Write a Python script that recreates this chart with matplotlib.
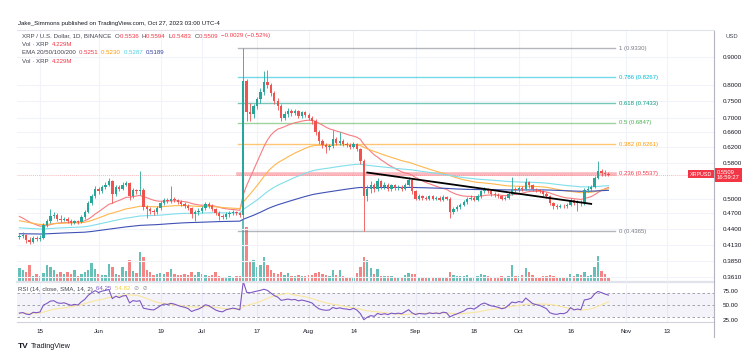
import numpy as np
import pandas as pd
import matplotlib
matplotlib.use("Agg")
import matplotlib.pyplot as plt
import matplotlib.dates as mdates
import matplotlib.transforms as mtrans

plt.rcParams['font.family'] = ['Liberation Sans', 'DejaVu Sans']

W, H = 756, 362

# ---- daily XRP/USD candles (May 9 - Oct 27 2023) ----
dates = pd.date_range("2023-05-09", "2023-10-27", freq="D")
first_open = 0.426

close_may = [.428, .430, .421, .418, .425, .423, .425, .448, .455, .465, .467, .460, .458, .460,
             .456, .452, .455, .453, .463, .472, .490, .505, .520]
close_jun = [.515, .525, .530, .537, .510, .525, .520, .530, .533, .505, .518, .515, .518, .482,
             .478, .474, .472, .480, .490, .497, .495, .500, .497, .492, .488, .485, .480, .468,
             .472, .475]
close_jul = [.480, .488, .485, .478, .470, .465, .463, .468, .470, .472, .470, .467, .815, .715,
             .710, .735, .755, .778, .810, .800, .775, .750, .735, .700, .710, .720, .712, .718,
             .705, .715, .708]
close_aug = [.700, .690, .660, .635, .625, .620, .622, .640, .630, .635, .628, .625, .620, .628,
             .615, .585, .505, .520, .530, .520, .538, .525, .530, .520, .528, .522, .525, .520,
             .530, .540, .515]
close_sep = [.500, .505, .502, .500, .505, .500, .502, .498, .503, .500, .472, .478, .482, .487,
             .492, .500, .502, .498, .505, .515, .520, .515, .510, .508, .505, .500, .502, .510,
             .520, .518]
close_oct = [.522, .520, .535, .528, .520, .517, .515, .510, .505, .490, .485, .483, .485, .484,
             .487, .497, .490, .492, .490, .518, .520, .525, .545, .560, .557, .5536, .5509]

high_may = [.432, .435, .432, .426, .428, .428, .430, .452, .460, .478, .472, .470, .466, .464,
            .463, .459, .458, .458, .466, .476, .494, .510, .526]
high_jun = [.525, .530, .536, .545, .540, .529, .528, .535, .538, .536, .522, .521, .560, .522,
            .486, .482, .478, .484, .494, .501, .502, .527, .504, .500, .496, .492, .489, .483,
            .476, .480]
high_jul = [.485, .493, .492, .489, .481, .474, .469, .472, .474, .476, .475, .473, .93298, .820,
            .745, .742, .762, .790, .850, .853, .808, .782, .758, .740, .718, .728, .725, .724,
            .722, .720, .720]
high_aug = [.712, .705, .695, .665, .640, .630, .628, .664, .645, .660, .640, .632, .630, .633,
            .631, .618, .590, .528, .538, .534, .545, .541, .535, .533, .532, .531, .529, .528,
            .534, .546, .543]
high_sep = [.518, .509, .508, .506, .508, .508, .506, .505, .507, .506, .503, .482, .486, .491,
            .496, .504, .507, .506, .509, .519, .525, .523, .518, .514, .511, .508, .506, .514,
            .546, .524]
high_oct = [.527, .526, .545, .538, .531, .523, .521, .518, .513, .508, .493, .488, .489, .488,
            .491, .502, .500, .496, .497, .523, .526, .530, .550, .585, .565, .562, .5594]

low_may = [.422, .424, .416, .414, .415, .419, .420, .422, .444, .452, .461, .456, .453, .455,
           .452, .448, .449, .450, .451, .460, .470, .487, .502]
low_jun = [.510, .512, .521, .526, .490, .506, .515, .517, .526, .498, .501, .510, .508, .476,
           .462, .469, .467, .469, .477, .486, .490, .491, .492, .488, .484, .480, .476, .462,
           .455, .467]
low_jul = [.471, .477, .481, .474, .466, .458, .459, .460, .464, .466, .466, .463, .460, .690,
           .690, .700, .725, .745, .770, .790, .765, .740, .722, .690, .692, .703, .704, .706,
           .698, .700, .702]
low_aug = [.692, .682, .652, .628, .618, .604, .612, .618, .625, .625, .622, .620, .615, .616,
           .610, .578, .43648, .495, .512, .514, .516, .520, .521, .515, .516, .518, .519, .516,
           .517, .527, .510]
low_sep = [.496, .497, .498, .496, .497, .496, .497, .494, .495, .496, .462, .468, .474, .479,
           .484, .489, .496, .494, .495, .502, .511, .511, .506, .504, .501, .496, .497, .499,
           .507, .514]
low_oct = [.514, .516, .517, .523, .516, .513, .511, .506, .501, .486, .479, .478, .480, .480,
           .481, .484, .486, .475, .485, .487, .514, .516, .522, .542, .550, .548, .5483]

vol_may = [140, 120, 100, 170, 60, 80, 60, 90, 170, 150, 120, 80, 100, 80, 100, 80, 120, 60,
           80, 100, 120, 190, 130]
vol_jun = [80, 70, 70, 180, 150, 80, 70, 150, 110, 220, 110, 90, 300, 250, 120, 100, 70, 80,
           90, 80, 100, 130, 80, 70, 70, 80, 70, 100, 70, 100]
vol_jul = [80, 70, 60, 70, 100, 60, 50, 50, 60, 50, 60, 60, 620, 550, 200, 220, 150, 170, 250,
           170, 120, 90, 80, 100, 70, 90, 60, 60, 70, 60, 60]
vol_aug = [70, 70, 90, 100, 80, 70, 60, 120, 70, 120, 60, 50, 50, 50, 90, 150, 250, 220, 140,
           80, 130, 60, 60, 60, 60, 50, 50, 50, 70, 90, 80]
vol_sep = [80, 50, 40, 40, 50, 50, 40, 50, 50, 50, 100, 70, 60, 60, 60, 70, 50, 50, 60, 80, 70,
           60, 50, 50, 40, 60, 40, 60, 170, 60]
vol_oct = [60, 70, 140, 100, 70, 50, 40, 60, 60, 70, 60, 40, 40, 40, 50, 80, 60, 80, 70, 100,
           60, 70, 150, 260, 110, 80, 40]

close = np.array(close_may + close_jun + close_jul + close_aug + close_sep + close_oct)
high = np.array(high_may + high_jun + high_jul + high_aug + high_sep + high_oct)
low = np.array(low_may + low_jun + low_jul + low_aug + low_sep + low_oct)
vol = np.array(vol_may + vol_jun + vol_jul + vol_aug + vol_sep + vol_oct)
opens = np.r_[first_open, close[:-1]]

# EMA values at the left edge of the chart (earlier history not shown)
ema_len = [20, 50, 100, 200]
ema_seed = [0.468, 0.457, 0.443, 0.432]
ema_col = ['#f77c80', '#ffb74d', '#80deea', '#3f51b5']

# fib drawn from the Jul 13 high to the Aug 17 low
fib_high_day = "2023-07-13"
fib_low_day = "2023-08-17"
fib_ratio = [1, 0.786, 0.618, 0.5, 0.382, 0.236, 0]
fib_col = ['#787b86', '#00bcd4', '#089981', '#4caf50', '#ff9800', '#f23645', '#787b86']

trend_dates = ["2023-08-18", "2023-10-22"]
trend_price = [0.557, 0.489]

price_ticks = [0.9, 0.8, 0.75, 0.7, 0.66, 0.62, 0.58, 0.5, 0.47, 0.44, 0.413, 0.385, 0.361]
date_ticks = ["2023-05-15", "2023-06-01", "2023-06-19", "2023-07-01", "2023-07-17", "2023-08-01",
              "2023-08-14", "2023-09-01", "2023-09-18", "2023-10-01", "2023-10-16", "2023-11-01",
              "2023-11-13"]
date_labels = ["15", "Jun", "19", "Jul", "17", "Aug", "14", "Sep", "18", "Oct", "16", "Nov", "13"]

UP, DN = '#26a69a', '#ef5350'
TXT = '#434651'
GRID = '#f0f3fa'
RED = '#f23645'

x = mdates.date2num(dates)
col = np.where(close >= opens, UP, DN)

fig = plt.figure(figsize=(W / 100, H / 100), dpi=100)
ax = fig.add_axes([17 / W, 1 - 282 / H, 697 / W, 252 / H])
axv = ax.twinx()
axr = fig.add_axes([17 / W, 1 - 322 / H, 697 / W, 40 / H], sharex=ax)
ax.set_zorder(axv.get_zorder() + 1)
ax.patch.set_visible(False)

# volume
axv.bar(x, vol, width=0.7, color=col, alpha=0.7, lw=0)
axv.set_ylim(0, 2520)
axv.axis('off')

# candles
ax.set_yscale('log')
ax.vlines(x, low, high, color=col, lw=0.6, zorder=3)
body = np.maximum(np.abs(close - opens), 0.0007)
ax.bar(x, body, bottom=np.minimum(close, opens), width=0.7, color=col, lw=0, zorder=4)

# EMAs
for n, s, c in zip(ema_len, ema_seed, ema_col):
    a = 2 / (n + 1)
    e, vals = s, []
    for v in close:
        e = a * v + (1 - a) * e
        vals.append(e)
    ax.plot(x, vals, color=c, lw=0.8, zorder=2)

# fibonacci retracement
hi = high[dates == pd.Timestamp(fib_high_day)][0]
lo = low[dates == pd.Timestamp(fib_low_day)][0]
fx0 = mdates.date2num(pd.Timestamp("2023-07-11 12:00"))
fx1 = mdates.date2num(pd.Timestamp("2023-10-29"))
for r, c in zip(fib_ratio, fib_col):
    lvl = lo + r * (hi - lo)
    lw, al = (2.6, 0.35) if r == 0.236 else (1.0, 0.55)
    ax.plot([fx0, fx1], [lvl, lvl], color=c, lw=lw, alpha=al, zorder=1)
    ax.text(fx1 + 1.2, lvl, "%g (%.4f)" % (r, lvl), color=c, fontsize=4.3, va='center')

# current price line
ax.axhline(close[-1], color=RED, lw=0.7, alpha=0.35, ls=(0, (1, 1)), zorder=1)

# trend line
ax.plot(mdates.date2num(pd.to_datetime(trend_dates)), trend_price, color='black', lw=1.3, zorder=5)

ax.set_ylim(0.3535, 1.007)
ax.set_xlim(x[0] - 0.68, x[0] + 201.65)
ax.yaxis.tick_right()
ax.set_yticks(price_ticks)
ax.set_yticklabels(["%.4f" % t for t in price_ticks])
ax.yaxis.set_minor_locator(plt.NullLocator())
ax.tick_params(axis='y', length=0, pad=6, labelsize=4.5, colors='#131722')
tick_x = mdates.date2num(pd.to_datetime(date_ticks))
ax.set_xticks(tick_x)
ax.tick_params(axis='x', length=0, labelbottom=False)
ax.grid(color=GRID, lw=0.8, zorder=0)
ax.set_axisbelow(True)
for sp in ['left', 'bottom']:
    ax.spines[sp].set_visible(False)
ax.spines['top'].set_color('#e0e3eb')
ax.spines['right'].set_color('#b2b5be')
ax.spines['right'].set_linewidth(0.8)

# RSI pane
diff = close - opens
ag, al_ = 0.0035, 0.0065
rsi = []
for d in diff:
    ag = (ag * 13 + max(d, 0)) / 14
    al_ = (al_ * 13 + max(-d, 0)) / 14
    rsi.append(100 - 100 / (1 + ag / al_))
rsi = pd.Series(rsi)
rsi_ma = rsi.rolling(14, min_periods=1).mean()

axr.axhspan(30, 70, color='#7e57c2', alpha=0.07, lw=0)
for lv in [70, 50, 30]:
    axr.axhline(lv, color='#9598a1', lw=0.6, ls=(0, (3, 3)))
axr.plot(x, rsi_ma, color='#f9e79f', lw=0.8)
axr.plot(x, rsi, color='#7e57c2', lw=0.8)
axr.set_ylim(20.7, 89.7)
axr.yaxis.tick_right()
axr.set_yticks([75, 50, 25])
axr.set_yticklabels(["75.00", "50.00", "25.00"])
axr.tick_params(axis='y', length=0, pad=6, labelsize=4.5, colors='#131722')
axr.set_xticks(tick_x)
axr.set_xticklabels(date_labels)
axr.tick_params(axis='x', length=0, pad=5, labelsize=4.5, colors='#131722')
axr.grid(axis='x', color=GRID, lw=0.8)
axr.set_axisbelow(True)
axr.spines['left'].set_visible(False)
axr.spines['top'].set_color('#e0e3eb')
axr.spines['top'].set_linewidth(1.6)
axr.spines['bottom'].set_color('#d1d4dc')
axr.spines['right'].set_color('#b2b5be')
axr.spines['right'].set_linewidth(0.8)

# axis line below the date labels
fig.add_artist(plt.Line2D([714 / W, 714 / W], [1 - 337 / H, 1 - 322 / H], color='#b2b5be', lw=0.8))


def row(x0, y0, parts, size=4.4):
    r = fig.canvas.get_renderer()
    xx = x0
    for s, c in parts:
        t = fig.text(xx / W, 1 - y0 / H, s, color=c, fontsize=size, va='center', ha='left')
        xx += t.get_window_extent(r).width


row(18, 23, [("Jake_Simmons published on TradingView.com, Oct 27, 2023 03:00 UTC-4", '#131722')])
row(22, 36, [("XRP / U.S. Dollar, 1D, BINANCE  ", TXT), ("O", TXT), ("0.5536  ", RED), ("H", TXT),
             ("0.5594  ", RED), ("L", TXT), ("0.5483  ", RED), ("C", TXT), ("0.5509  ", RED),
             ("\u22120.0029 (\u22120.52%)", RED)])
row(22, 44.5, [("Vol \u00b7 XRP  ", TXT), ("4.229M", RED)])
row(22, 53, [("EMA 20/50/100/200  ", TXT), ("0.5251  ", RED), ("0.5230  ", '#ff9800'),
             ("0.5287  ", '#4dd0e1'), ("0.5189", '#303f9f')])
row(22, 61.5, [("Vol \u00b7 XRP  ", TXT), ("4.229M", RED)])
row(18, 289, [("RSI (14, close, SMA, 14, 2)  ", TXT), ("64.25  ", '#7e57c2'), ("54.82  ", '#f4d03f'),
              ("\u2298  \u2298", '#9598a1')])

fig.text(726 / W, 1 - 37 / H, "USD", fontsize=4.2, color=TXT, va='center')

# last price badges
bt = mtrans.blended_transform_factory(ax.transAxes, ax.transData)
ax.text(1.004, close[-1], "%.4f\n16:59:27" % close[-1], transform=bt, fontsize=4.2, color='white',
        va='center', ha='left', linespacing=1.1, clip_on=False,
        bbox=dict(boxstyle='square,pad=0.35', fc=RED, ec='none'))
ax.text(0.997, close[-1] * 1.004, "XRPUSD", transform=bt, fontsize=3.9, color='white',
        va='center', ha='right', clip_on=False,
        bbox=dict(boxstyle='square,pad=0.3', fc=RED, ec='none'))

# logo
fig.text(18 / W, 1 - 346 / H, "TV", fontsize=6, fontweight='bold', color='#131722', va='center')
fig.text(31 / W, 1 - 346 / H, "TradingView", fontsize=5.2, color='#131722', va='center')

fig.savefig("out.png", dpi=100)
